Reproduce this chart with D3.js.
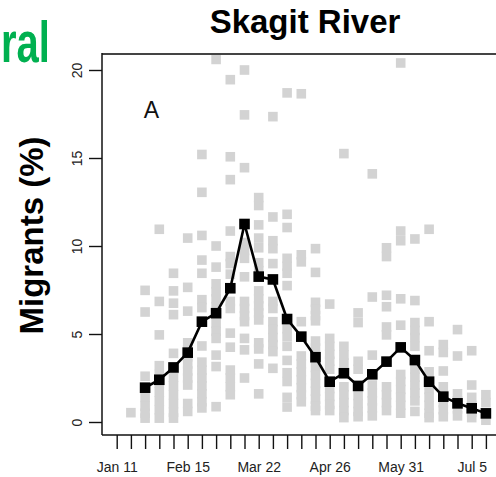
<!DOCTYPE html>
<html>
<head>
<meta charset="utf-8">
<script src="https://cdn.jsdelivr.net/npm/d3@7"></script>
<style>
  html, body { margin: 0; padding: 0; background: #fff; }
  svg { display: block; }
</style>
</head>
<body>
<svg id="chart" width="496" height="477"></svg>
<script>
// ---- data ----
const title = "Skagit River";
const yLabel = "Migrants (%)";
const panelLetter = "A";
const cutHeading = "ral";
// weekly ticks starting Jan 11 (index 0)
const weekCount = 27;
const tickLabelWeeks = [0, 5, 10, 15, 20, 25];
const tickLabels = ["Jan 11", "Feb 15", "Mar 22", "Apr 26", "May 31", "Jul 5"];
const yTicks = [0, 5, 10, 15, 20];
// mean migrants (%) per week, weeks 2..26
const meanWeeks = [2,3,4,5,6,7,8,9,10,11,12,13,14,15,16,17,18,19,20,21,22,23,24,25,26];
const meanValues = [1.95, 2.4, 3.1, 3.94, 5.7, 6.18, 7.6, 11.25, 8.26, 8.1, 5.85, 4.85, 3.68,
                    2.29, 2.77, 2.05, 2.71, 3.43, 4.24, 3.52, 2.29, 1.44, 1.06, 0.78, 0.49];
// individual years per week (weeks 1..26)
const yearWeeks = [1,2,3,4,5,6,7,8,9,10,11,12,13,14,15,16,17,18,19,20,21,22,23,24,25,26];
const yearValues = [
  [0.53],
  [7.48, 6.25, 2.6, 1.9, 1.4, 0.9, 0.5, 0.22],
  [10.95, 6.85, 4.95, 3.2, 2.7, 2.2, 1.7, 1.2, 0.7, 0.22],
  [8.45, 7.45, 6.75, 6.1, 3.9, 3.0, 2.55, 2.05, 1.55, 1.05, 0.55, 0.22],
  [10.45, 7.65, 6.3, 4.5, 4.1, 3.7, 3.3, 2.9, 2.5, 2.1, 1.05, 0.6],
  [15.2, 13.05, 10.6, 9.2, 8.45, 6.95, 6.5, 4.32, 3.4, 2.95, 2.5, 2.05, 1.6, 1.15, 0.8],
  [20.6, 10.0, 8.8, 7.85, 7.4, 7.0, 6.55, 5.6, 5.15, 4.75, 3.8, 3.15, 0.87],
  [19.45, 15.07, 13.77, 10.85, 9.4, 9.0, 8.4, 6.85, 6.45, 5.05, 4.25, 2.95, 2.5, 2.0, 1.55],
  [20.0, 17.45, 14.45, 10.2, 9.75, 9.3, 8.25, 6.85, 6.45, 6.05, 5.7, 4.75, 4.1, 2.5],
  [12.75, 12.3, 11.2, 10.45, 9.9, 9.05, 8.6, 7.45, 7.0, 6.6, 6.2, 5.8, 4.5, 4.15, 3.3, 1.6],
  [17.35, 11.65, 10.3, 9.85, 9.0, 6.85, 6.45, 5.7, 5.25, 4.8, 4.4, 4.0, 3.05],
  [18.7, 11.8, 11.05, 9.3, 8.85, 8.45, 7.75, 5.3, 4.85, 4.3, 3.5, 2.8, 2.3, 1.4, 0.85],
  [18.65, 9.5, 9.1, 5.7, 3.75, 3.3, 2.85, 2.4, 1.95, 1.55, 1.15],
  [9.85, 8.5, 6.8, 6.4, 6.05, 5.75, 4.6, 4.2, 3.1, 2.65, 2.2, 1.75, 1.3, 0.9, 0.65],
  [6.7, 4.75, 4.3, 3.85, 3.45, 3.0, 1.9, 1.45, 1.0, 0.65],
  [15.25, 4.3, 3.8, 3.35, 2.0, 1.55, 1.1, 0.65, 0.25],
  [6.2, 5.65, 3.45, 3.0, 1.5, 1.05, 0.6, 0.3],
  [14.1, 7.1, 3.8, 2.1, 1.65, 1.2, 0.8, 0.35],
  [9.9, 9.4, 7.2, 6.55, 5.4, 4.95, 2.0, 1.55, 1.1, 0.65],
  [20.4, 10.85, 10.3, 7.0, 5.5, 2.7, 2.3, 1.85, 1.4, 0.95, 0.5],
  [10.4, 6.9, 5.65, 5.2, 4.8, 4.3, 3.0, 2.55, 2.1, 1.65, 1.2, 0.6],
  [10.95, 5.7, 4.05, 2.85, 1.85, 1.4, 0.95, 0.5, 0.25],
  [4.4, 3.95, 2.9, 2.0, 1.55, 1.1, 0.7, 0.3],
  [5.25, 3.75, 1.6, 1.2, 0.75, 0.35],
  [4.05, 2.1, 1.4, 0.95, 0.55, 0.25],
  [1.55, 1.1, 0.5, 0.1]
];

// ---- layout ----
const svg = d3.select("#chart");
const box = { left: 102, top: 54, bottom: 435, right: 530 };
const x = d3.scaleLinear().domain([0, 26]).range([116.7, 485.9]);
const y = d3.scaleLinear().domain([0, 20]).range([422, 70]);

const graySize = 9.6, blackSize = 10.6;
const font = "'Liberation Sans', Arial, sans-serif";

// gray squares (individual years)
const grayPts = [];
yearWeeks.forEach((w, i) => yearValues[i].forEach(v => grayPts.push({ w, v })));
svg.append("g").selectAll("rect").data(grayPts).join("rect")
  .attr("x", d => x(d.w) - graySize / 2)
  .attr("y", d => y(d.v) - graySize / 2)
  .attr("width", graySize).attr("height", graySize)
  .attr("fill", "#d3d3d3");

// mean line
const meanPts = meanWeeks.map((w, i) => ({ w, v: meanValues[i] }));
svg.append("path").datum(meanPts)
  .attr("d", d3.line().x(d => x(d.w)).y(d => y(d.v)))
  .attr("fill", "none").attr("stroke", "#000").attr("stroke-width", 2.6)
  .attr("stroke-linejoin", "round");
svg.append("g").selectAll("rect").data(meanPts).join("rect")
  .attr("x", d => x(d.w) - blackSize / 2)
  .attr("y", d => y(d.v) - blackSize / 2)
  .attr("width", blackSize).attr("height", blackSize)
  .attr("fill", "#000");

// box
svg.append("line").attr("x1", box.left).attr("x2", box.right).attr("y1", box.top).attr("y2", box.top)
  .attr("stroke", "#444").attr("stroke-width", 2.2);
svg.append("line").attr("x1", box.left).attr("x2", box.left).attr("y1", box.top - 1).attr("y2", box.bottom)
  .attr("stroke", "#111").attr("stroke-width", 1.5);
svg.append("line").attr("x1", box.left).attr("x2", box.right).attr("y1", box.bottom).attr("y2", box.bottom)
  .attr("stroke", "#111").attr("stroke-width", 1.5);

// y axis
const yAxis = d3.axisLeft(y).tickValues(yTicks).tickSize(13).tickPadding(6).tickFormat(d3.format("d"));
const gy = svg.append("g").attr("transform", `translate(${box.left},0)`).call(yAxis);
gy.select(".domain").remove();
gy.selectAll(".tick line").attr("stroke", "#111").attr("stroke-width", 1.4);
gy.selectAll(".tick text")
  .attr("font-family", font).attr("font-size", 14).attr("fill", "#222")
  .attr("text-anchor", "middle")
  .attr("x", 0).attr("dy", 0)
  .attr("transform", "translate(-20,0) rotate(-90)");

// x axis
const xAxis = d3.axisBottom(x).tickValues(d3.range(weekCount)).tickSize(14).tickPadding(10)
  .tickFormat(d => { const i = tickLabelWeeks.indexOf(d); return i >= 0 ? tickLabels[i] : ""; });
const gx = svg.append("g").attr("transform", `translate(0,${box.bottom})`).call(xAxis);
gx.select(".domain").remove();
gx.selectAll(".tick line").attr("stroke", "#111").attr("stroke-width", 1.4);
gx.selectAll(".tick text")
  .attr("font-family", font).attr("font-size", 14).attr("fill", "#222")
  .attr("dy", 0).attr("y", 37);

// panel letter
svg.append("text").attr("x", 151.5).attr("y", 117.5).attr("text-anchor", "middle")
  .attr("font-family", font).attr("font-size", 23).attr("fill", "#111").text(panelLetter);

// title
svg.append("text").attr("x", 305).attr("y", 33).attr("text-anchor", "middle")
  .attr("font-family", font).attr("font-weight", "bold").attr("font-size", 33)
  .attr("fill", "#000").text(title);

// y label
svg.append("text").attr("transform", "translate(43,235.5) rotate(-90)")
  .attr("text-anchor", "middle")
  .attr("font-family", font).attr("font-weight", "bold").attr("font-size", 33)
  .attr("fill", "#000").text(yLabel);

// green heading fragment (left edge of the original slide)
svg.append("text").attr("transform", "translate(1,61.5) scale(0.69,1)")
  .attr("text-anchor", "start")
  .attr("font-family", font).attr("font-weight", "bold").attr("font-size", 58)
  .attr("fill", "#00b050").text(cutHeading);
</script>
</body>
</html>
